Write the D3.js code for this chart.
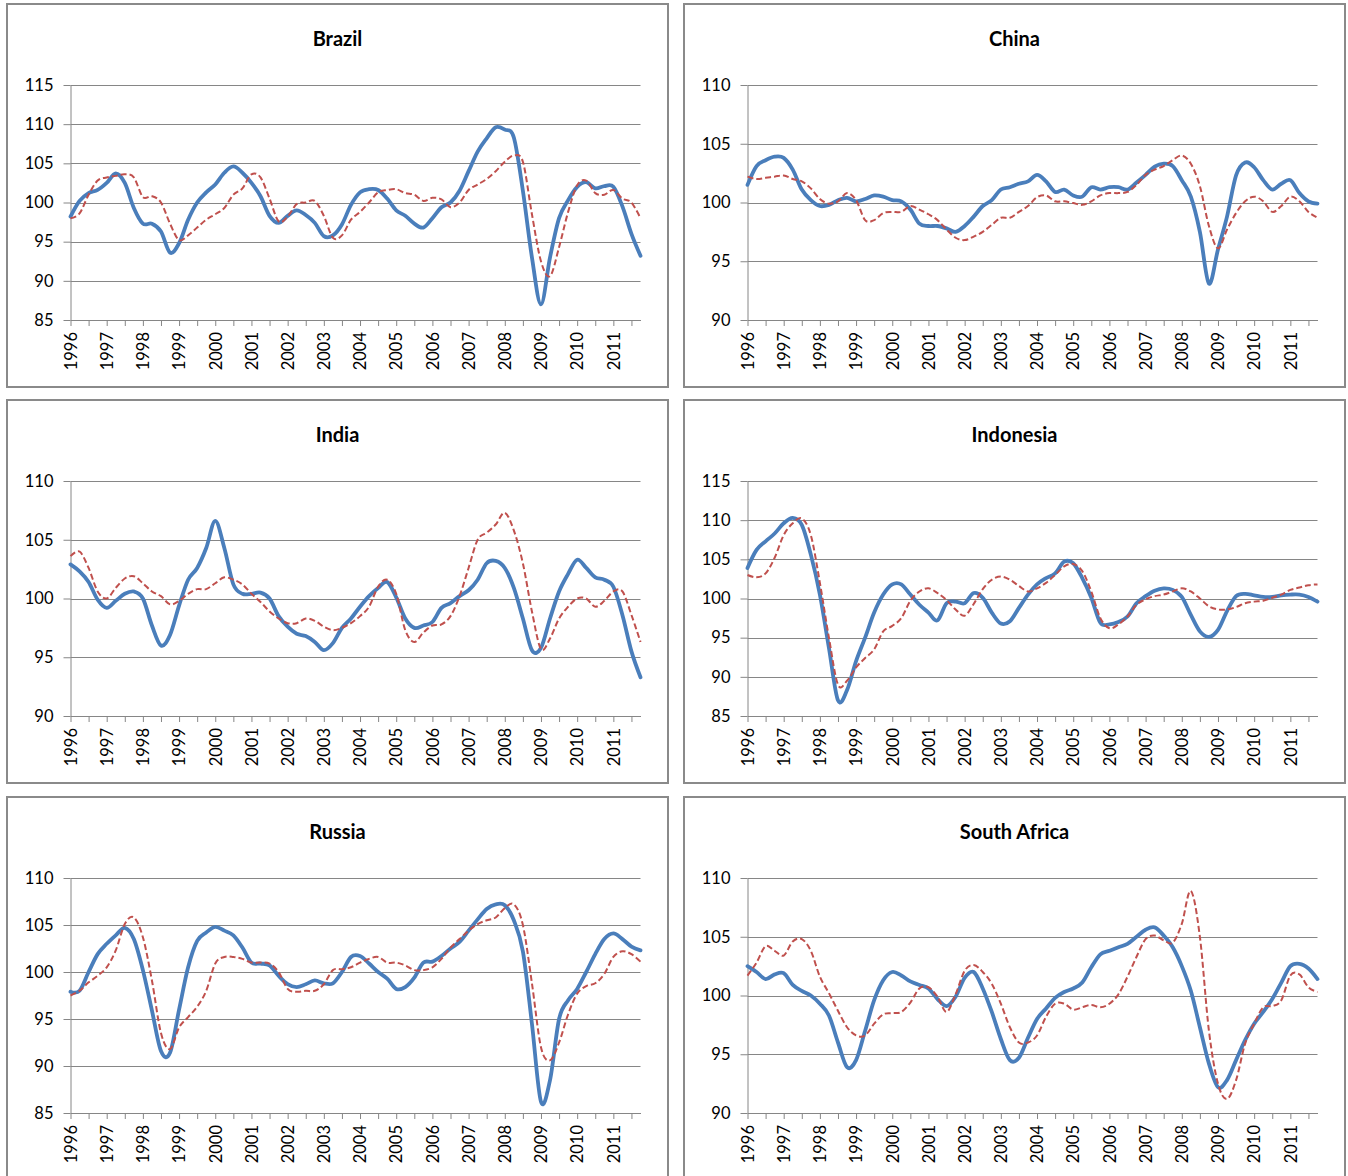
<!DOCTYPE html>
<html>
<head>
<meta charset="utf-8">
<script src="https://cdn.jsdelivr.net/npm/d3@7/dist/d3.min.js"></script>
<style>
  body { margin: 0; background: #fff; }
  text { font-family: Lato, "Open Sans", sans-serif; }
</style>
</head>
<body>
<svg id="chart" width="1348" height="1176"></svg>
<script>
// quarterly index values 1996Q1 .. 2011Q4
var years = ["1996","1997","1998","1999","2000","2001","2002","2003",
             "2004","2005","2006","2007","2008","2009","2010","2011"];
var countries = ["Brazil", "China", "India", "Indonesia", "Russia", "South Africa"];

var ticksWide = [85, 90, 95, 100, 105, 110, 115];
var ticksNarrow = [90, 95, 100, 105, 110];
var ticksRussia = [85, 90, 95, 100, 105, 110];

var brazilBlue = [98.2,100.2,101.2,101.6,102.5,103.7,102.5,99.3,97.3,97.3,
  96.3,93.6,94.8,97.8,100.0,101.3,102.3,103.8,104.6,103.8,
  102.5,100.8,98.3,97.4,98.3,99.0,98.4,97.4,95.7,95.8,
  97.2,99.7,101.3,101.7,101.6,100.5,99.0,98.3,97.3,96.8,
  98.0,99.4,100.0,101.5,104.0,106.5,108.2,109.6,109.3,108.3,
  101.5,93.0,87.0,93.0,98.0,100.3,102.0,102.6,101.8,102.1,
  102.0,99.5,96.0,93.2];
var brazilRed = [98.0,98.6,101.0,102.8,103.2,103.4,103.6,103.2,100.7,100.8,
  100.0,97.3,95.2,95.8,96.8,97.8,98.5,99.3,101.0,101.8,
  103.6,103.2,100.5,97.6,98.2,99.8,100.0,100.2,98.3,95.5,
  95.8,97.8,98.8,100.0,101.3,101.6,101.7,101.2,101.0,100.2,
  100.6,100.4,99.4,100.0,101.6,102.3,103.0,104.0,105.2,106.0,
  105.2,98.5,92.5,90.6,94.3,98.8,102.2,102.8,101.2,101.0,
  101.6,100.5,100.0,98.0];

var chinaBlue = [101.5,103.1,103.6,103.9,103.8,102.8,101.1,100.2,99.7,99.8,
  100.2,100.4,100.1,100.3,100.6,100.5,100.2,100.1,99.4,98.2,
  98.0,98.0,97.8,97.5,98.0,98.8,99.7,100.2,101.1,101.3,
  101.6,101.8,102.35,101.8,100.9,101.1,100.6,100.5,101.3,101.1,
  101.3,101.3,101.1,101.7,102.35,103.05,103.3,103.1,101.9,100.5,
  97.5,93.1,96.0,98.8,102.3,103.4,103.0,101.9,101.1,101.6,
  101.9,100.8,100.1,99.9];
var chinaRed = [102.2,102.0,102.1,102.2,102.3,102.0,101.8,101.2,100.3,99.9,
  100.1,100.8,100.2,98.5,98.5,99.1,99.2,99.2,99.7,99.4,
  99.0,98.5,97.7,97.0,96.8,97.1,97.5,98.1,98.7,98.7,
  99.2,99.7,100.45,100.6,100.1,100.1,99.95,99.8,100.1,100.6,
  100.8,100.8,100.9,101.5,102.35,102.8,103.1,103.6,104.0,103.3,
  101.4,98.0,96.1,97.7,99.1,100.1,100.5,100.1,99.2,99.7,
  100.5,100.1,99.2,98.7];

var indiaBlue = [102.9,102.3,101.4,99.9,99.2,99.8,100.4,100.6,100.0,97.7,
  96.0,96.9,99.4,101.6,102.6,104.3,106.6,104.3,101.2,100.4,
  100.4,100.5,100.0,98.5,97.6,97.0,96.8,96.3,95.6,96.2,
  97.5,98.3,99.3,100.2,100.9,101.4,100.1,98.3,97.5,97.7,
  98.0,99.2,99.6,100.2,100.7,101.6,103.0,103.2,102.6,100.9,
  98.3,95.6,95.8,98.3,100.6,102.1,103.3,102.6,101.8,101.6,
  101.0,98.6,95.5,93.3];
var indiaRed = [103.6,104.0,102.6,100.6,100.0,100.9,101.7,101.9,101.3,100.6,
  100.2,99.5,99.8,100.4,100.8,100.8,101.3,101.8,101.6,101.2,
  100.4,99.7,98.9,98.3,97.9,97.9,98.3,98.1,97.6,97.3,
  97.5,97.9,98.5,99.3,101.0,101.6,100.4,97.3,96.3,97.1,
  97.7,97.8,98.5,100.2,102.6,105.0,105.6,106.3,107.3,105.8,
  103.0,98.9,95.7,96.6,98.3,99.3,100.0,100.0,99.3,99.8,
  100.6,100.6,98.6,96.3];

var indonesiaBlue = [103.9,106.2,107.3,108.3,109.6,110.3,109.4,105.6,100.5,93.7,
  87.0,88.3,92.0,95.0,98.2,100.5,101.8,101.8,100.5,99.2,
  98.2,97.2,99.4,99.6,99.4,100.7,100.1,98.2,96.8,97.1,
  98.8,100.5,101.8,102.6,103.2,104.7,104.5,102.6,100.1,96.9,
  96.7,97.0,97.7,99.4,100.3,101.0,101.3,101.1,100.2,97.9,
  95.8,95.1,96.0,98.4,100.3,100.6,100.4,100.2,100.2,100.4,
  100.5,100.5,100.2,99.6];
var indonesiaRed = [103.0,102.7,103.2,105.2,108.1,109.6,110.2,108.1,102.0,95.0,
  89.0,89.5,91.2,92.4,93.5,95.8,96.5,97.5,99.7,100.9,
  101.3,100.7,99.8,98.6,97.8,99.3,101.2,102.4,102.8,102.4,
  101.6,100.9,101.3,102.0,103.0,104.1,104.4,103.5,100.9,97.5,
  96.2,96.7,97.7,99.2,99.9,100.3,100.5,100.9,101.3,100.9,
  100.0,99.0,98.6,98.6,98.9,99.4,99.6,99.7,100.1,100.5,
  101.1,101.4,101.7,101.8];

var russiaBlue = [97.9,98.0,100.0,101.9,103.0,103.9,104.7,103.5,100.2,95.9,
  91.6,91.4,96.0,100.5,103.3,104.2,104.8,104.4,103.9,102.6,
  101.0,100.9,100.7,99.6,98.7,98.4,98.7,99.1,98.8,98.8,
  100.0,101.6,101.7,100.9,100.0,99.3,98.2,98.4,99.4,101.0,
  101.1,101.7,102.5,103.2,104.4,105.6,106.7,107.2,107.1,105.5,
  102.2,94.5,86.2,88.5,95.0,97.0,98.2,100.0,101.9,103.5,
  104.1,103.5,102.7,102.3];
var russiaRed = [97.5,98.0,98.9,99.6,100.5,102.3,105.1,105.8,103.7,99.1,
  93.5,91.8,94.1,95.2,96.3,98.0,100.9,101.6,101.6,101.4,
  101.0,101.0,100.9,100.0,98.2,97.9,98.0,98.0,98.7,100.2,
  100.3,100.5,101.0,101.4,101.6,101.0,101.0,100.7,100.2,100.2,
  100.5,101.4,102.6,103.5,104.4,105.1,105.5,105.8,106.8,107.2,
  105.0,98.8,92.0,90.6,92.5,95.5,97.7,98.5,98.8,99.8,
  101.6,102.2,101.9,101.1];

var southAfricaBlue = [102.5,102.0,101.4,101.8,101.9,100.9,100.4,100.0,99.3,98.3,
  96.0,93.9,94.5,97.0,99.6,101.3,102.0,101.7,101.2,100.9,
  100.6,99.7,99.1,99.9,101.5,102.0,100.6,98.6,96.3,94.5,
  94.7,96.4,98.0,98.9,99.8,100.3,100.6,101.1,102.4,103.5,
  103.8,104.1,104.4,105.0,105.6,105.8,105.1,104.1,102.5,100.4,
  97.3,94.2,92.2,92.8,94.5,96.2,97.6,98.6,99.7,101.1,
  102.5,102.7,102.3,101.4];
var southAfricaRed = [101.7,102.8,104.2,103.8,103.4,104.6,104.8,103.8,101.6,100.2,
  98.7,97.3,96.6,96.6,97.6,98.4,98.5,98.6,99.4,100.6,
  100.7,99.9,98.6,100.1,102.1,102.6,102.0,101.0,99.3,97.3,
  96.0,96.0,96.6,98.2,99.3,99.3,98.8,99.0,99.2,99.0,
  99.3,100.1,101.6,103.3,104.8,105.1,104.7,104.5,106.1,108.9,
  105.0,97.0,92.5,91.2,92.8,95.9,97.6,99.0,99.1,99.6,
  101.7,101.8,100.7,100.3];

var panels = [
  { name: countries[0], ticks: ticksWide,   blue: brazilBlue,      red: brazilRed },
  { name: countries[1], ticks: ticksNarrow, blue: chinaBlue,       red: chinaRed },
  { name: countries[2], ticks: ticksNarrow, blue: indiaBlue,       red: indiaRed },
  { name: countries[3], ticks: ticksWide,   blue: indonesiaBlue,   red: indonesiaRed },
  { name: countries[4], ticks: ticksRussia, blue: russiaBlue,      red: russiaRed },
  { name: countries[5], ticks: ticksNarrow, blue: southAfricaBlue, red: southAfricaRed }
];

var panelW = 661, panelH = 383;
var colX = [7, 684], rowY = [4, 400, 797];
var plotL = 63.5, plotR = 633.5, plotT = 81, plotB = 316;
var grey = "#868686";

var svg = d3.select("#chart");

panels.forEach(function (p, k) {
    var g = svg.append("g")
        .attr("transform", "translate(" + colX[k % 2] + "," + rowY[Math.floor(k / 2)] + ")");

    g.append("rect")
        .attr("width", panelW).attr("height", panelH)
        .attr("fill", "#fff").attr("stroke", "#8a8a8a").attr("stroke-width", 2);

    g.append("text")
        .attr("x", panelW / 2).attr("y", 42)
        .attr("text-anchor", "middle")
        .style("font-weight", "bold").style("font-size", "20px")
        .text(p.name);

    var scX = d3.scaleLinear().domain([0, p.blue.length - 1]).range([plotL, plotR]);
    var scY = d3.scaleLinear().domain(d3.extent(p.ticks)).range([plotB, plotT]);

    // gridlines
    g.append("g").selectAll("line")
        .data(p.ticks.slice(1)).enter().append("line")
        .attr("x1", plotL).attr("x2", plotR)
        .attr("y1", d => Math.round(scY(d)) + 0.5).attr("y2", d => Math.round(scY(d)) + 0.5)
        .attr("stroke", grey).attr("stroke-width", 1);

    // y axis
    var yAx = g.append("g")
        .attr("transform", "translate(" + plotL + ",0)")
        .call(d3.axisLeft(scY).tickValues(p.ticks).tickSize(7).tickSizeOuter(0).tickPadding(10));
    yAx.attr("color", grey);
    yAx.selectAll("text").attr("fill", "#000").style("font-size", "16.5px");

    // x axis, category ticks every 2 quarters, labels every year
    var xAx = g.append("g")
        .attr("transform", "translate(0," + plotB + ")")
        .call(d3.axisBottom(scX)
            .tickValues(d3.range(0, p.blue.length - 1, 2))
            .tickSize(6).tickSizeOuter(0)
            .tickFormat(i => i % 4 === 0 ? years[i / 4] : ""));
    xAx.attr("color", grey);
    xAx.selectAll("text")
        .attr("fill", "#000").style("font-size", "16.5px")
        .attr("transform", "rotate(-90)")
        .attr("text-anchor", "end")
        .attr("x", -12).attr("y", 0).attr("dy", "0.35em");

    var lineMaker = d3.line()
        .x((d, i) => scX(i))
        .y(d => scY(d))
        .curve(d3.curveCatmullRom.alpha(0));

    g.append("path")
        .attr("d", lineMaker(p.blue))
        .attr("fill", "none").attr("stroke", "#4A7EBB")
        .attr("stroke-width", 3.8).attr("stroke-linejoin", "round").attr("stroke-linecap", "round");

    g.append("path")
        .attr("d", lineMaker(p.red))
        .attr("fill", "none").attr("stroke", "#C0504D")
        .attr("stroke-width", 2).attr("stroke-dasharray", "6,3");
});
</script>
</body>
</html>
